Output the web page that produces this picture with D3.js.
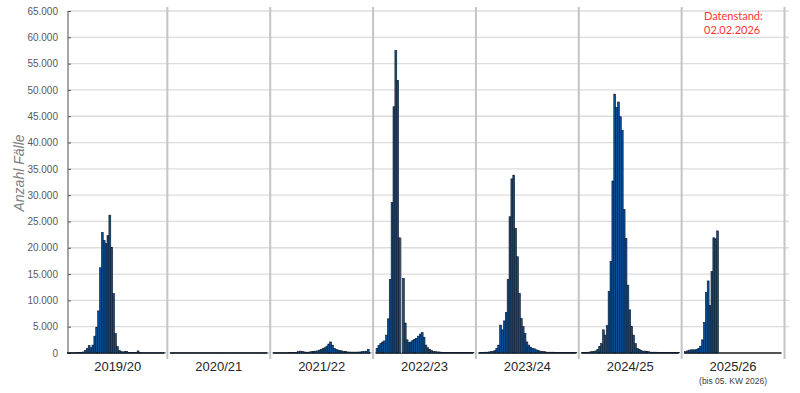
<!DOCTYPE html>
<html>
<head>
<meta charset="utf-8">
<script src="https://cdn.jsdelivr.net/npm/d3@7"></script>
<style>
  html, body { margin: 0; padding: 0; background: #fff; }
  svg { display: block; }
</style>
</head>
<body>
<svg id="chart" width="800" height="393"></svg>
<script>
// seasons shown on the x axis (one panel per season, weeks KW 40 .. KW 39)
const seasons = ["2019/20", "2020/21", "2021/22", "2022/23", "2023/24", "2024/25", "2025/26"];

// weekly case counts per season (index 0 = KW 40)
const s2019_20 = [30, 30, 40, 40, 50, 60, 80, 100, 200, 500, 900, 1400, 1000, 1500, 3200, 4900,
  8000, 16200, 22900, 21400, 20800, 22300, 26200, 20100, 11300, 3700, 1200, 500, 300, 200,
  300, 300, 100, 80, 60, 60, 60, 400, 60, 50, 50, 50, 40, 40, 40, 40, 40, 40, 40, 40, 40, 40];
const s2020_21 = [20, 20, 20, 20, 20, 20, 20, 20, 20, 20, 20, 20, 20, 20, 20, 20, 20, 20, 20, 20,
  20, 20, 20, 20, 20, 20, 20, 20, 20, 20, 20, 20, 20, 20, 20, 20, 20, 20, 20, 20, 20, 20, 20,
  20, 20, 20, 20, 20, 20, 20, 20, 20];
const s2021_22 = [30, 30, 30, 30, 40, 40, 50, 50, 60, 60, 80, 100, 150, 250, 350, 300, 200, 150,
  150, 200, 250, 300, 350, 400, 550, 700, 850, 1000, 1300, 1700, 2100, 1500, 900, 700, 550,
  450, 400, 300, 250, 200, 180, 170, 160, 160, 170, 180, 200, 250, 300, 350, 700, 30];
const s2022_23 = [900, 1400, 1800, 2100, 2300, 3400, 6500, 14000, 28600, 46800, 57500, 51800,
  21900, null, 14200, 5700, 2500, 2000, 2100, 2400, 2600, 2800, 3200, 3600, 3900, 3000, 1500,
  1000, 700, 500, 300, 250, 200, 200, 150, 120, 100, 100, 100, 100, 100, 100, 100, 100, 100,
  100, 100, 100, 100, 100, 100, 100];
const s2023_24 = [50, 80, 100, 150, 150, 200, 250, 300, 450, 900, 1500, 5300, 4400, 6100, 7700,
  14000, 25900, 33100, 33800, 23700, 18300, 11300, 6600, 5000, 3700, 2100, 1500, 1100, 900,
  800, 600, 500, 350, 250, 250, 200, 150, 150, 150, 150, 120, 120, 120, 100, 100, 100, 100,
  100, 100, 100, 100, 100];
const s2024_25 = [60, 80, 100, 150, 200, 250, 300, 400, 700, 1200, 1800, 4400, 3400, 5200, 11700,
  17400, 32700, 49200, 46700, 47700, 44900, 42300, 27300, 21800, 12900, 8200, 5000, 3400, 1800,
  900, 700, 500, 350, 350, 250, 250, 150, 150, 150, 150, 120, 120, 120, 100, 100, 100, 100,
  100, 100, 100, 100, 100];
const s2025_26 = [250, 400, 550, 600, 600, 600, 700, 900, 1300, 2500, 5800, 11500, 13700, 9000,
  15500, 21900, 21700, 23200];

const seasonValues = [s2019_20, s2020_21, s2021_22, s2022_23, s2023_24, s2024_25, s2025_26];

// y axis ticks
const yTicks = d3.range(0, 65001, 5000);

const de = d3.formatLocale({ decimal: ",", thousands: ".", grouping: [3], currency: ["", " €"] });
const fmt = de.format(",d");

const WEEKS = 52;
const PLOT_LEFT = 64.5;
const PLOT_RIGHT = 784.5;
const AXIS_X = 68;
const Y_TOP = 11;
const Y_BOTTOM = 353;

const svg = d3.select("#chart");

const y = d3.scaleLinear().domain([0, 65000]).range([Y_BOTTOM, Y_TOP]);
const xSeason = d3.scaleBand().domain(seasons).range([PLOT_LEFT, PLOT_RIGHT]);
const xWeek = d3.scaleBand().domain(d3.range(WEEKS)).range([3, xSeason.bandwidth() - 2]);

// horizontal gridlines
svg.append("g")
  .selectAll("line")
  .data(yTicks.filter(d => d > 0))
  .join("line")
  .attr("x1", AXIS_X)
  .attr("x2", 789)
  .attr("y1", d => y(d))
  .attr("y2", d => y(d))
  .attr("stroke", "#dcdcdc")
  .attr("stroke-width", 1.3);

// season separators
svg.append("g")
  .selectAll("line")
  .data(seasons)
  .join("line")
  .attr("x1", d => xSeason(d) + xSeason.bandwidth())
  .attr("x2", d => xSeason(d) + xSeason.bandwidth())
  .attr("y1", 7)
  .attr("y2", 359)
  .attr("stroke", "#c4c4c4")
  .attr("stroke-width", 2);

// left axis line
svg.append("line")
  .attr("x1", AXIS_X).attr("x2", AXIS_X)
  .attr("y1", Y_TOP).attr("y2", Y_BOTTOM)
  .attr("stroke", "#a6a6a6")
  .attr("stroke-width", 2);

// y axis with small inward ticks
const yAxis = svg.append("g")
  .attr("transform", `translate(${AXIS_X},0)`)
  .call(d3.axisLeft(y).tickValues(yTicks).tickFormat(fmt).tickSize(-3).tickPadding(10));
yAxis.select(".domain").remove();
yAxis.selectAll(".tick line").attr("stroke", "#555").attr("stroke-width", 1);
yAxis.selectAll(".tick text")
  .attr("fill", "#595959")
  .style("font-family", "'Liberation Sans', Arial, sans-serif")
  .style("font-size", "10px");

// bars
seasons.forEach((season, si) => {
  const x0 = xSeason(season);
  const vals = seasonValues[si];
  const g = svg.append("g").attr("transform", `translate(${x0},0)`);

  // baseline of the panel
  g.append("line")
    .attr("x1", si === 0 ? AXIS_X - x0 - 1 : 2.5)
    .attr("x2", xSeason.bandwidth() - 3)
    .attr("y1", Y_BOTTOM).attr("y2", Y_BOTTOM)
    .attr("stroke", "#1a1a1a")
    .attr("stroke-width", 1.5);

  g.selectAll("rect")
    .data(vals.map((v, i) => ({ i, v })).filter(d => d.v !== null))
    .join("rect")
    .attr("x", d => xWeek(d.i))
    .attr("width", xWeek.bandwidth())
    .attr("y", d => y(d.v))
    .attr("height", d => Y_BOTTOM - y(d.v))
    .attr("fill", "#0a4f95")
    .attr("stroke", "#111a26")
    .attr("stroke-width", 0.6);

  // empty week slots show a thin grey line up to the neighbouring bar
  g.selectAll("line.gap")
    .data(vals.map((v, i) => ({ i, v })).filter(d => d.v === null))
    .join("line")
    .attr("class", "gap")
    .attr("x1", d => xWeek(d.i) + xWeek.bandwidth() / 2)
    .attr("x2", d => xWeek(d.i) + xWeek.bandwidth() / 2)
    .attr("y1", Y_BOTTOM)
    .attr("y2", d => y(vals[d.i - 1] || 0))
    .attr("stroke", "#bdbdbd")
    .attr("stroke-width", 1);
});

// season labels
svg.append("g")
  .selectAll("text")
  .data(seasons)
  .join("text")
  .attr("x", (d, i) => {
    const left = Math.max(xSeason(d), i === 0 ? AXIS_X : 0);
    return (left + xSeason(d) + xSeason.bandwidth()) / 2;
  })
  .attr("y", 371)
  .attr("text-anchor", "middle")
  .attr("fill", "#262626")
  .style("font-family", "'Liberation Sans', Arial, sans-serif")
  .style("font-size", "13px")
  .text(d => d);

svg.append("text")
  .attr("x", xSeason("2025/26") + xSeason.bandwidth() / 2)
  .attr("y", 384)
  .attr("text-anchor", "middle")
  .attr("fill", "#404040")
  .style("font-family", "'Liberation Sans', Arial, sans-serif")
  .style("font-size", "8.5px")
  .text("(bis 05. KW 2026)");

// y axis title
svg.append("text")
  .attr("transform", "translate(24,173) rotate(-90)")
  .attr("text-anchor", "middle")
  .attr("fill", "#7f7f7f")
  .style("font-family", "'Liberation Sans', Arial, sans-serif")
  .style("font-style", "italic")
  .style("font-size", "14px")
  .text("Anzahl Fälle");

// data status note
const note = svg.append("text")
  .attr("fill", "#ff3333")
  .style("font-family", "Lato, 'Liberation Sans', sans-serif")
  .style("font-size", "11px");
note.append("tspan").attr("x", 704).attr("y", 20).text("Datenstand:");
note.append("tspan").attr("x", 704).attr("y", 34).text("02.02.2026");
</script>
</body>
</html>
